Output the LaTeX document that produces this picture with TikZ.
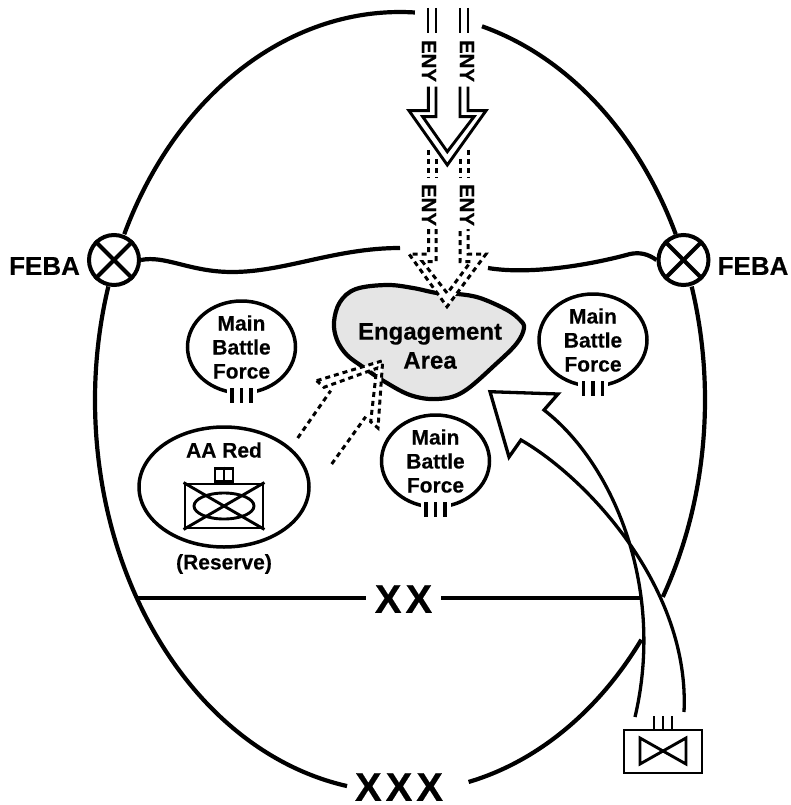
\documentclass[tikz,border=0pt]{standalone}
\usepackage{fontspec}
\setmainfont[BoldFeatures={FakeBold=0.3}]{Liberation Sans}
\usetikzlibrary{shapes.geometric}
\newcommand{\mainarc}[3]{\draw[outline] (400,400) ++(#1:305 and #3) arc[start angle=#1, end angle=#2, x radius=305, y radius=#3];}
\begin{document}
\begin{tikzpicture}[x=1pt, y=-1pt,
    outline/.style ={line width=4.2pt},
    thin line/.style ={line width=2.9pt},
    bar line/.style ={line width=3.3pt},
    dash line/.style ={line width=3pt, dash pattern=on 5pt off 4pt},
    force/.style ={ellipse, draw, line width=3.5pt, inner sep=0pt, minimum width=108pt, minimum height=92pt},
    feba/.style ={circle, draw, line width=4pt, inner sep=0pt, minimum size=50pt},
    label text/.style ={align=center, inner sep=0pt, font=\fontsize{21}{24}\selectfont\bfseries},
    eny/.style ={inner sep=0pt, rotate=-90, font=\fontsize{20.5}{24}\selectfont\bfseries}]
   \useasboundingbox (0,0) rectangle (791,805);
   % division boundary
   \mainarc{-87.2}{-154.7}{388}
   \mainarc{-163}{-180}{388}
   \mainarc{-180}{-260}{392}
   \mainarc{77}{37.7}{392}
   \mainarc{30.5}{-17}{388}
   \mainarc{-25.3}{-74.4}{388}
   % phase line
   \node[feba] (febal) at (114,260) {};
   \node[feba] (febar) at (683.5,260) {};
   \draw[outline] (febal.45) -- (febal.225);
   \draw[outline] (febal.135) -- (febal.315);
   \draw[outline] (febar.45) -- (febar.225);
   \draw[outline] (febar.135) -- (febar.315);
   \node[inner sep=0pt, font=\fontsize{26}{30}\selectfont\bfseries] (febatl) at (44.5,266) {FEBA};
   \node[inner sep=0pt, font=\fontsize{26}{30}\selectfont\bfseries] (febatr) at (753,266) {FEBA};
   \coordinate (gapl) at (400,248);
   \coordinate (gapr) at (488,268);
   \draw[outline] (febal.east) .. controls (165,255) and (190,272) .. (232,272) .. controls (285,272) and (335,248) .. (gapl);
   \draw[outline] (gapr) .. controls (530,275) and (590,265) .. (630,254) .. controls (640,252) and (648,254) .. (febar.west);
   % engagement area
   \draw[outline, fill=gray!20] plot[smooth cycle, tension=0.6] coordinates {(437,293) (413,288) (387,285) (356,289) (340,302) (334,322) (337,340) (347,355) (363,367) (382,380) (410,395) (437,399) (463,392) (497,363) (517,343) (524,328) (520,320) (507,310) (480,298) (458,294)};
   \node[label text, font=\fontsize{24}{29}\selectfont\bfseries] (area) at (430,346) {Engagement\\Area};
   % main battle forces
   \foreach \nm/\cx/\cy in {a/241.5/347, b/593/340, c/435.5/461} {
     \node[force] (force\nm) at (\cx,\cy) {};
     \fill[white] (\cx-15,\cy+36) rectangle (\cx+15,\cy+52);
     \node[label text] (forcetext\nm) at (\cx,\cy) {Main\\Battle\\Force};
     \foreach \dx in {-9.5,0,9.5} \draw[bar line] (\cx+\dx,\cy+41) -- ++(0,15);
   }
   % reserve
   \node[ellipse, draw, line width=3.5pt, inner sep=0pt, minimum width=170pt, minimum height=120pt] (reserve) at (224,487) {};
   \node[label text] (aared) at (224,450) {AA Red};
   \node[label text] (restext) at (224,564) {(Reserve)};
   \node[draw, thin line, inner sep=0pt, minimum width=78pt, minimum height=44pt] (tank) at (224,506) {};
   \node[draw, thin line, inner sep=0pt, minimum width=18pt, minimum height=13pt, anchor=south] (turret) at (tank.north) {};
   \draw[thin line] (turret.north) -- (turret.south);
   \draw[thin line] (tank.north west) -- (tank.south east);
   \draw[thin line] (tank.south west) -- (tank.north east);
   \node[ellipse, draw, thin line, inner sep=0pt, minimum width=60pt, minimum height=26pt] (tankring) at (tank.center) {};
   % enemy axes
   \foreach \nm/\cx/\cy in {a/429/61, b/467/61, c/429/205, d/467/205}
     \node[eny] (eny\nm) at (\cx,\cy) {ENY};
   \foreach \cx in {428,436,460,468} \draw[thin line] (\cx,8) -- (\cx,33);
   \foreach \cx/\cy in {428.5/150, 436/159, 460/159, 468/150} \draw[dash line] (\cx,\cy) -- (\cx,178);
   \draw[dash line, fill=white] (428.5,229) -- (428.5,254) -- (409,254) -- (447,306.7) -- (486,254) -- (468,254) -- (468,229);
   \draw[dash line] (436,229) -- (436,261.7) -- (422.5,261.7) -- (447.3,293.3) -- (470.7,261.7) -- (460,261.7) -- (460,229);
   \draw[thin line, fill=white] (428.3,86.7) -- (428.3,110.7) -- (409,110.7) -- (447.3,165) -- (486,110.7) -- (468,110.7) -- (468,86.7);
   \draw[thin line] (436,86.7) -- (436,116.7) -- (422.7,116.7) -- (447.3,151.7) -- (474,116.7) -- (460,116.7) -- (460,86.7);
   % reserve commitment
   \draw[dash line, fill=white] (316.7,380.7) -- (382.7,360.7) -- (378,428) -- (370.7,421.7) -- (376.7,368.3) -- (324,387.3) -- cycle;
   \coordinate (taila) at (297.7,438);
   \coordinate (tailb) at (331.7,464);
   \draw[dash line] (taila) -- (330.7,390.7);
   \draw[dash line] (tailb) -- (365.7,416.7);
   % counterattack
   \node[draw, thin line, inner sep=0pt, minimum width=78pt, minimum height=43pt] (brigade) at (663,751.5) {};
   \foreach \dx in {-9,0,9} \draw[thin line] ([xshift=\dx pt]brigade.north) -- ++(0,-13);
   \draw[thin line] (640,738) -- (686,764) -- (686,738) -- (640,764) -- cycle;
   \coordinate (basea) at (635,717);
   \coordinate (baseb) at (684,712);
   \draw[line width=3.3pt, line join=miter] (basea) .. controls (665,590) and (615,465) .. (544,410) -- (558,394) -- (490,391.7) -- (509,457) -- (521,440) .. controls (590,480) and (690,590) .. (baseb);
   % boundaries
   \node[inner sep=0pt, font=\fontsize{40}{40}\selectfont\bfseries] (xx) at (403.5,599) {X\kern4pt X};
   \node[inner sep=0pt, font=\fontsize{40}{40}\selectfont\bfseries] (xxx) at (399,787) {X\kern4pt X\kern4pt X};
   \coordinate (xxl) at (135.5,598);
   \coordinate (xxr) at (640,598);
   \draw[outline] (xxl) -- (366,598);
   \draw[outline] (441,598) -- (xxr);
\end{tikzpicture}
\end{document}
